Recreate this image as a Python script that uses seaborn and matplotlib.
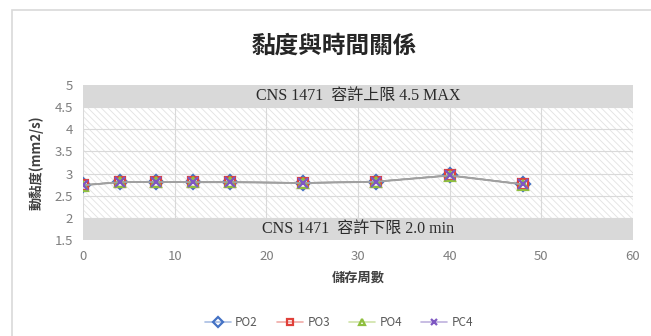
import matplotlib
matplotlib.use('Agg')
import matplotlib.pyplot as plt
from matplotlib.patches import Rectangle
from matplotlib.lines import Line2D
from matplotlib.legend_handler import HandlerTuple
import seaborn as sns
import pandas as pd

weeks = [0, 4, 8, 12, 16, 24, 32, 40, 48]
po2 = [2.74, 2.81, 2.81, 2.81, 2.81, 2.79, 2.82, 2.96, 2.76]
po3 = [2.74, 2.81, 2.80, 2.81, 2.81, 2.79, 2.82, 2.96, 2.76]
po4 = [2.73, 2.80, 2.81, 2.80, 2.80, 2.78, 2.81, 2.95, 2.75]
pc4 = [2.74, 2.81, 2.81, 2.81, 2.81, 2.79, 2.82, 2.96, 2.76]
series_names = ['PO2', 'PO3', 'PO4', 'PC4']
colors = ['#4472c4', '#e0403a', '#8fbf3f', '#7e57c2']
pale = ['#a9bde3', '#f0aaa7', '#cfe3a8', '#bfb1de']
markers = ['D', 's', '^', 'x']

sns.set_theme(style='white')
plt.rcParams['font.family'] = ['Noto Sans CJK TC', 'DejaVu Sans']
plt.rcParams['hatch.linewidth'] = 0.6
plt.rcParams['hatch.color'] = '#dcdcdc'

df = pd.DataFrame({
    'week': weeks * 4,
    'visc': po2 + po3 + po4 + pc4,
    'series': [s for s in series_names for _ in weeks],
})

fig = plt.figure(figsize=(6.51, 3.36), dpi=100)
ax = fig.add_axes([83 / 651, 1 - 240 / 336, 550 / 651, 155 / 336])

# chart area frame
fig.patches.append(Rectangle((12 / 651, -0.05), 1.0, 1 - 10 / 336 + 0.05,
                             transform=fig.transFigure, fill=False,
                             edgecolor='#d9d9d9', linewidth=1.2))

# limit bands
ax.axhspan(4.5, 5, color='#d9d9d9', zorder=0, linewidth=0)
ax.axhspan(1.5, 2, color='#d9d9d9', zorder=0, linewidth=0)
ax.axhspan(2, 4.5, facecolor='white', hatch='\\\\\\\\\\', edgecolor='#e2e2e2',
           linewidth=0, zorder=0)

ax.text(30, 4.75, 'CNS 1471  容許上限 4.5 MAX', ha='center', va='center',
        fontsize=11.5, color='#2b2b2b',
        family=['Liberation Serif', 'Noto Sans CJK TC'])
ax.text(30, 1.75, 'CNS 1471  容許下限 2.0 min', ha='center', va='center',
        fontsize=11.5, color='#2b2b2b',
        family=['Liberation Serif', 'Noto Sans CJK TC'])

sns.lineplot(data=df, x='week', y='visc', hue='series', style='series',
             palette=colors, markers=['D', 's', '^', 'X'], dashes=False, ax=ax,
             linewidth=1, markersize=7, legend=False, zorder=3)
for ln, c, m in zip(ax.lines, colors, markers):
    ln.set_color('#a0a0a0')
    ln.set_marker(m)
    ln.set_markeredgecolor(c)
    ln.set_markerfacecolor('none')
    ln.set_markeredgewidth(1.6)

ax.set_xlim(0, 60)
ax.set_ylim(1.5, 5)
ax.set_xticks(range(0, 61, 10))
ax.set_yticks([1.5, 2, 2.5, 3, 3.5, 4, 4.5, 5])
ax.set_yticklabels(['1.5', '2', '2.5', '3', '3.5', '4', '4.5', '5'])
ax.grid(True, color='#d9d9d9', linewidth=0.8)
for gl in ax.get_xgridlines() + ax.get_ygridlines():
    gl.set_zorder(1)
for sp in ax.spines.values():
    sp.set_visible(False)
ax.tick_params(axis='both', length=0, labelsize=9.5, colors='#7f7f7f', pad=7)
ax.set_xlabel('儲存周數', fontsize=9.5, color='#404040', fontweight='bold',
              labelpad=6)
ax.set_ylabel('動黏度(mm2/s)', fontsize=9.5, color='#404040',
              fontweight='bold', labelpad=8)

fig.text(334 / 651, 1 - 46 / 336, '黏度與時間關係', ha='center', va='center',
         fontsize=17, color='#262626', fontweight='bold')

handles = []
for c, p, m in zip(colors, pale, markers):
    line = Line2D([], [], color=p, linewidth=1.2)
    mark = Line2D([], [], linestyle='none', marker=m, markerfacecolor='none',
                  markeredgecolor=c, markeredgewidth=1.6, markersize=5)
    handles.append((line, mark))
leg = fig.legend(handles, series_names, loc='center',
                 bbox_to_anchor=(339 / 651, 1 - 323 / 336), ncol=4,
                 frameon=False, fontsize=8.5, handlelength=2.2,
                 columnspacing=1.6, handletextpad=0.4,
                 handler_map={tuple: HandlerTuple(ndivide=1)})
for t in leg.get_texts():
    t.set_color('#595959')

fig.savefig('out.png', dpi=100)
